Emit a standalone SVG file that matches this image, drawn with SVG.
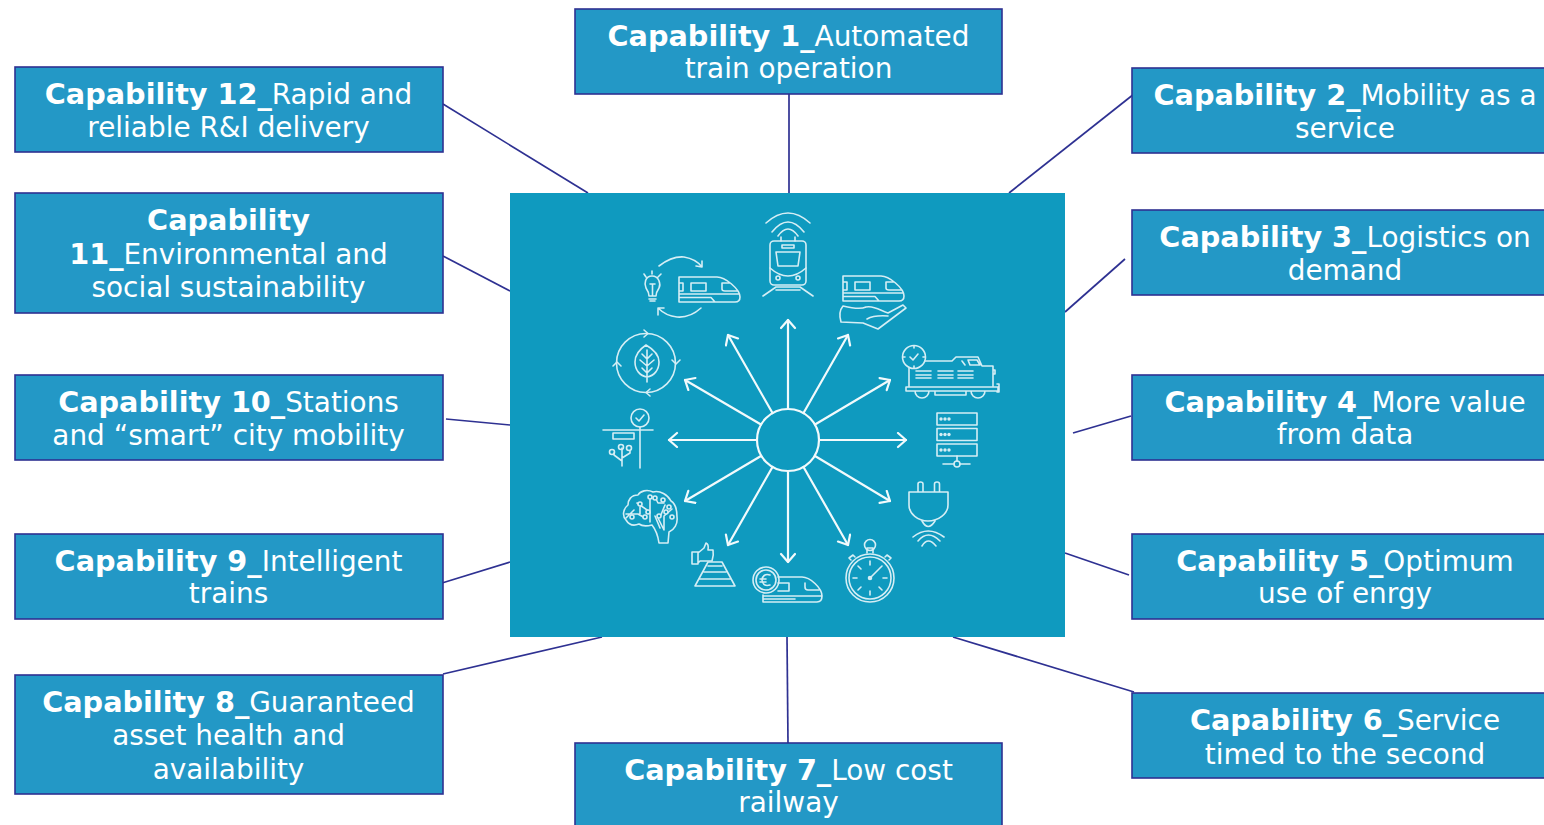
<svg xmlns="http://www.w3.org/2000/svg" xmlns:xlink="http://www.w3.org/1999/xlink" width="1544" height="825" viewBox="0 0 1544 825">
<style>
.box{fill:#2398c6;stroke:#2e3192;stroke-width:1.6}
.t{font-family:"DejaVu Sans",Verdana,sans-serif;font-size:27.9px;fill:#fff;text-anchor:middle}
.b{font-weight:700;font-size:28.7px}
.c line{stroke:#2e3192;stroke-width:1.7}
.i{fill:none;stroke:#d5eef5;stroke-width:1.6;stroke-linecap:round;stroke-linejoin:round}
.a{fill:none;stroke:#f2fafc;stroke-width:2.2;stroke-linecap:round;stroke-linejoin:round}
</style>
<defs>
<g id="train"><path d="M0 0H38C46 0 61 12 61 20Q61 25 56 25H0ZM0 17H60M0 20.500H32L36 25M12 6H27V14H12ZM0 6H4V14H0ZM43 6H51M43 6V12Q43 14 46 14H58"/></g>
<marker id="m" markerWidth="20" markerHeight="20" refX="11" refY="8" orient="auto" markerUnits="userSpaceOnUse"><path d="M3 1L11 8L3 15" fill="none" stroke="#f2fafc" stroke-width="2.200" stroke-linecap="round" stroke-linejoin="round"/></marker>
</defs>
<rect width="1544" height="825" fill="#fff"/>
<g id="connectors" class="c">
<line x1="789" y1="94" x2="789" y2="193"/>
<line x1="1134" y1="94" x2="1009" y2="193"/>
<line x1="1125" y1="259" x2="1065" y2="312"/>
<line x1="1131" y1="416" x2="1073" y2="433"/>
<line x1="1129" y1="575" x2="1065" y2="553"/>
<line x1="1134" y1="692" x2="953" y2="637"/>
<line x1="788" y1="743" x2="787" y2="637"/>
<line x1="443" y1="674" x2="602" y2="637"/>
<line x1="442" y1="583" x2="510" y2="562"/>
<line x1="446" y1="419" x2="510" y2="425"/>
<line x1="443" y1="256" x2="510" y2="291"/>
<line x1="443" y1="104" x2="588" y2="193"/>
</g>
<g id="hub">
<rect x="510" y="193" width="555" height="444" fill="#0f9abf"/>
<circle cx="788" cy="440" r="31" fill="none" stroke="#f2fafc" stroke-width="2.200"/>
<g class="a">
<line x1="788" y1="409" x2="788" y2="320" marker-end="url(#m)"/>
<line x1="772.500" y1="413" x2="728" y2="335" marker-end="url(#m)"/>
<line x1="803.500" y1="413" x2="848" y2="335" marker-end="url(#m)"/>
<line x1="761" y1="424.500" x2="685" y2="380" marker-end="url(#m)"/>
<line x1="815" y1="424.500" x2="890" y2="380" marker-end="url(#m)"/>
<line x1="757" y1="440" x2="669" y2="440" marker-end="url(#m)"/>
<line x1="819" y1="440" x2="906" y2="440" marker-end="url(#m)"/>
<line x1="761" y1="456" x2="685" y2="501" marker-end="url(#m)"/>
<line x1="815" y1="456" x2="890" y2="501" marker-end="url(#m)"/>
<line x1="772.500" y1="467" x2="728" y2="545" marker-end="url(#m)"/>
<line x1="803.500" y1="467" x2="848" y2="545" marker-end="url(#m)"/>
<line x1="788" y1="471" x2="788" y2="562" marker-end="url(#m)"/>
</g>
</g>
<g id="icon-train-loop" class="i">
<use xlink:href="#train" x="679" y="277"/>
<path d="M659 266Q672 256 684 257Q696 259 702 267M702 261L702 267L696 266M701 308Q690 318 677 317Q666 316 658 308M658 315L658 308L664 308"/>
<path d="M652 276C645 276 644 284 646 288C648 291 649 293 649 296H656C656 293 657 291 659 288C661 284 659 276 652 276ZM649 299H656M650 301H655M650 284H655M652.500 284V296M644 274L646 277M652 271V274M661 274L658 277"/>
</g>
<g id="icon-train-radio" class="i">
<rect x="770" y="241" width="36" height="44" rx="4"/>
<path d="M776 252H800L798 266H778ZM782 245H794V248H782ZM770 268Q788 284 806 268M763 296L776 287H800L813 296M776 290H800M766 223Q788 203 810 223M772 232Q788 212 804 232M778 236Q788 222 798 236M781 241V237M795 241V237"/>
<circle cx="778" cy="278" r="2"/><circle cx="798" cy="278" r="2"/>
</g>
<g id="icon-train-hand" class="i">
<use xlink:href="#train" x="843" y="276"/>
<path d="M843 306Q860 310 866 307C875 305 882 312 888 313L903 305L906 308L878 329L863 323L841 322Q838 312 843 306ZM867 319Q874 315 888 316"/>
</g>
<g id="icon-loco-clock" class="i">
<circle cx="914" cy="357" r="11.500"/>
<path d="M910 357L913 360L918 354M914 346V348M914 366V368M903 357H905M923 357H925"/>
<path d="M909 368V386M925 361H952L956 357H978L982 366H993V386M906 387H998V391H906ZM915 391A6 6 0 0 0 929 391M971 391A6 6 0 0 0 985 391M935 391V395H966V391M916 371H931M916 375H931M916 378H931M938 371H953M938 375H953M938 378H953M958 371H973M958 375H973M958 378H973M962 361L965 365M968 360H977L980 365H970ZM993 370H995V374H993M997 384H999V392H997"/>
</g>
<g id="icon-servers" class="i">
<rect x="937" y="413" width="40" height="12"/><rect x="937" y="428.500" width="40" height="12"/><rect x="937" y="444" width="40" height="12"/>
<path d="M957 456V461M943 464H954M960 464H970"/><circle cx="957" cy="464" r="3"/>
<g fill="#d5eef5" stroke="none"><circle cx="941" cy="419" r="1.700"/><circle cx="945" cy="419" r="1.700"/><circle cx="949" cy="419" r="1.700"/><circle cx="941" cy="434.500" r="1.700"/><circle cx="945" cy="434.500" r="1.700"/><circle cx="949" cy="434.500" r="1.700"/><circle cx="941" cy="450" r="1.700"/><circle cx="945" cy="450" r="1.700"/><circle cx="949" cy="450" r="1.700"/></g>
</g>
<g id="icon-plug" class="i">
<path d="M909 492H948V505C948 514 938 521 928 521C918 521 909 514 909 505ZM918 492V484Q918 482 920.500 482Q923 482 923 484V492M934.500 492V484Q934.500 482 937 482Q939.500 482 939.500 484V492M922 521Q928 532 935 521M913 537Q928 525 944 537M918 541Q928 529 940 541M922 546Q928 536 936 546"/>
</g>
<g id="icon-stopwatch" class="i">
<circle cx="870" cy="578" r="24"/><circle cx="870" cy="578" r="21"/><circle cx="870" cy="545" r="5.500"/>
<path d="M867 553V548H873V553M851 560L849 558L853 555L855 557M889 560L891 558L887 555L885 557M870 578L879 569M870 561V565M870 591V595M853 578H857M883 578H887M858 566L861 569M882 590L879 587M858 590L861 587M882 566L879 569"/>
<circle cx="870" cy="578" r="1.500" fill="#d5eef5"/>
</g>
<g id="icon-euro-train" class="i">
<path d="M778 577H802C810 577 822 588 822 596Q822 602 817 602H763V595M763 596H822M763 599H795M778 583H789V591H778M805 583V587Q805 590 808 590H819"/>
<circle cx="766" cy="580" r="13"/><circle cx="766" cy="580" r="10"/>
<path d="M770 575Q763 573 762 580Q763 587 770 585M760 579H766M760 582H766"/>
</g>
<g id="icon-pyramid" class="i">
<path d="M695 586H735L722 562H708ZM700 579H730M704 572H726M708 566H722"/>
<path d="M692 552H698V564H692ZM698 553L704 548L706 543Q709 544 708 550H713Q714 555 712 561H700L698 563"/>
</g>
<g id="icon-brain" class="i">
<path d="M659 543H668L669 532C674 530 678 524 677 517C677 510 676 504 671 501C668 495 660 490 653 492C647 489 640 491 638 495C631 495 628 500 628 505C623 509 622 516 626 520C629 525 634 526 639 524C643 527 648 526 652 525C656 530 658 536 659 543Z"/>
<path d="M640 507V514M637 503L650 512V522M650 497V511M655 497L658 503H664M665 505L660 517M672 509L664 516V530M655 516L660 528M626 514H638L645 518M634 510L626 518M658 518L664 530"/>
<g fill="#0f9abf"><circle cx="640" cy="504" r="2"/><circle cx="650" cy="497" r="2"/><circle cx="655" cy="498" r="2"/><circle cx="663" cy="500" r="2"/><circle cx="669" cy="507" r="2"/><circle cx="659" cy="516" r="2"/><circle cx="666" cy="512" r="2"/><circle cx="672" cy="517" r="2"/><circle cx="648" cy="512" r="2"/><circle cx="632" cy="517" r="2"/><circle cx="645" cy="517" r="2"/></g>
</g>
<g id="icon-station" class="i">
<circle cx="640" cy="418" r="9"/>
<path d="M636 418L639 421L644 415M603 430H653M640 427V468M613 433H634V439H613Z"/>
<path d="M622 466V448M622 461L614 455V453M622 458L630 453V451"/>
<circle cx="612" cy="452" r="2.500"/><circle cx="621" cy="447" r="2.500"/><circle cx="629" cy="448" r="2.500"/>
</g>
<g id="icon-leaf" class="i">
<circle cx="646" cy="363" r="29.500"/>
<path d="M646 345C640 349 635 355 635 362C635 370 640 376 647 377C654 376 659 370 659 362C659 355 653 349 646 345ZM647 350V382M647 359L642 354M647 359L652 354M647 366L640 360M647 366L654 360M647 373L642 368M647 373L652 368"/>
<path d="M644 330L648 333.500L644 337M672 360L676 364L680 360M650 389L646 392.500L650 396M613 366L617 362L621 366"/>
</g>
<g id="box-1"><rect class="box" x="575" y="9" width="427" height="85"/><text class="t" x="788.500" y="46"><tspan class="b">Capability 1_</tspan>Automated</text><text class="t" x="788.500" y="78">train operation</text></g>
<g id="box-2"><rect class="box" x="1132" y="68" width="420" height="85"/><text class="t" x="1345" y="105"><tspan class="b">Capability 2_</tspan>Mobility as a</text><text class="t" x="1345" y="138">service</text></g>
<g id="box-3"><rect class="box" x="1132" y="210" width="420" height="85"/><text class="t" x="1345" y="247"><tspan class="b">Capability 3_</tspan>Logistics on</text><text class="t" x="1345" y="280">demand</text></g>
<g id="box-4"><rect class="box" x="1132" y="375" width="420" height="85"/><text class="t" x="1345" y="412"><tspan class="b">Capability 4_</tspan>More value</text><text class="t" x="1345" y="444">from data</text></g>
<g id="box-5"><rect class="box" x="1132" y="534" width="420" height="85"/><text class="t" x="1345" y="571"><tspan class="b">Capability 5_</tspan>Optimum</text><text class="t" x="1345" y="603">use of enrgy</text></g>
<g id="box-6"><rect class="box" x="1132" y="693" width="420" height="85"/><text class="t" x="1345" y="730"><tspan class="b">Capability 6_</tspan>Service</text><text class="t" x="1345" y="764">timed to the second</text></g>
<g id="box-7"><rect class="box" x="575" y="743" width="427" height="90"/><text class="t" x="788.500" y="780"><tspan class="b">Capability 7_</tspan>Low cost</text><text class="t" x="788.500" y="812">railway</text></g>
<g id="box-8"><rect class="box" x="15" y="675" width="428" height="119"/><text class="t" x="228.500" y="712"><tspan class="b">Capability 8_</tspan>Guaranteed</text><text class="t" x="228.500" y="745">asset health and</text><text class="t" x="228.500" y="779">availability</text></g>
<g id="box-9"><rect class="box" x="15" y="534" width="428" height="85"/><text class="t" x="228.500" y="571"><tspan class="b">Capability 9_</tspan>Intelligent</text><text class="t" x="228.500" y="603">trains</text></g>
<g id="box-10"><rect class="box" x="15" y="375" width="428" height="85"/><text class="t" x="228.500" y="412"><tspan class="b">Capability 10_</tspan>Stations</text><text class="t" x="228.500" y="445">and “smart” city mobility</text></g>
<g id="box-11"><rect class="box" x="15" y="193" width="428" height="120"/><text class="t b" x="228.500" y="230">Capability</text><text class="t" x="228.500" y="264"><tspan class="b">11_</tspan>Environmental and</text><text class="t" x="228.500" y="297">social sustainability</text></g>
<g id="box-12"><rect class="box" x="15" y="67" width="428" height="85"/><text class="t" x="228.500" y="104"><tspan class="b">Capability 12_</tspan>Rapid and</text><text class="t" x="228.500" y="137">reliable R&amp;I delivery</text></g>
</svg>
